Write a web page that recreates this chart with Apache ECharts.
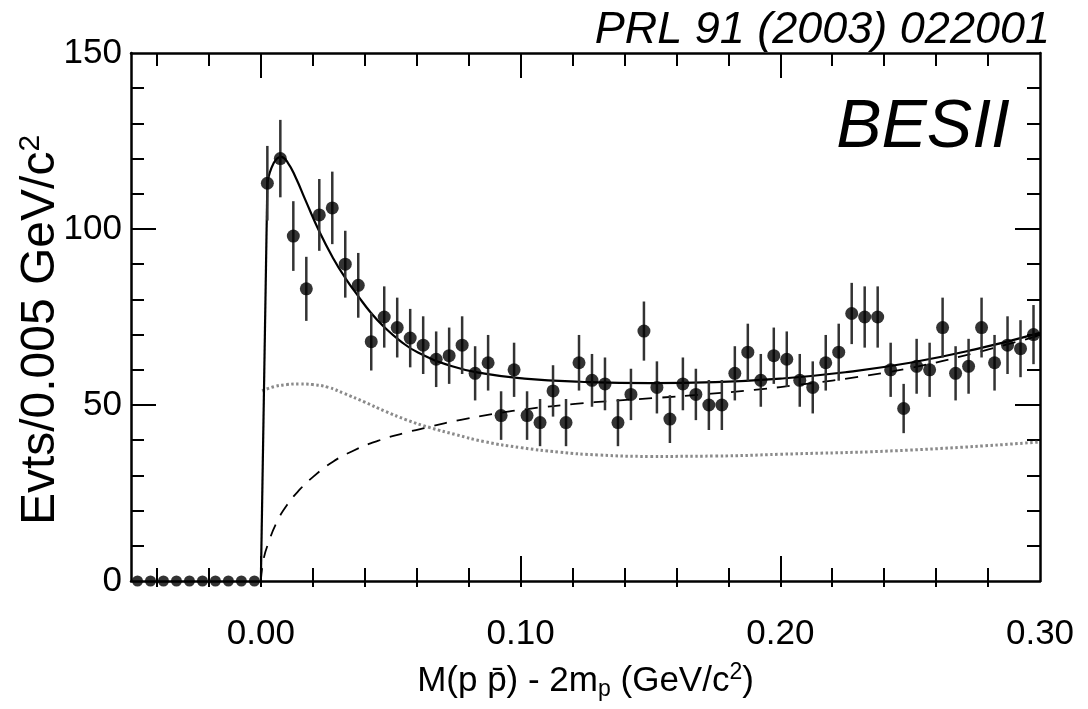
<!DOCTYPE html>
<html>
<head>
<meta charset="utf-8">
<title>BESII p pbar threshold</title>
<script src="https://cdn.jsdelivr.net/npm/echarts@6/dist/echarts.min.js"></script>
<style>
html, body { margin: 0; padding: 0; background: #fff; }
#chart { width: 1088px; height: 709px; }
</style>
</head>
<body>
<div id="chart"></div>
<script>
// below threshold: empty bins
var zeroX = [-0.0475, -0.0425, -0.0375, -0.0325, -0.0275, -0.0225, -0.0175, -0.0125, -0.0075, -0.0025];
var zeroY = [0, 0, 0, 0, 0, 0, 0, 0, 0, 0];

// bin centres (5 MeV bins) and counts
var binX = [
  0.0025, 0.0075, 0.0125, 0.0175, 0.0225, 0.0275, 0.0325, 0.0375, 0.0425, 0.0475,
  0.0525, 0.0575, 0.0625, 0.0675, 0.0725, 0.0775, 0.0825, 0.0875, 0.0925, 0.0975,
  0.1025, 0.1075, 0.1125, 0.1175, 0.1225, 0.1275, 0.1325, 0.1375, 0.1425, 0.1475,
  0.1525, 0.1575, 0.1625, 0.1675, 0.1725, 0.1775, 0.1825, 0.1875, 0.1925, 0.1975,
  0.2025, 0.2075, 0.2125, 0.2175, 0.2225, 0.2275, 0.2325, 0.2375, 0.2425, 0.2475,
  0.2525, 0.2575, 0.2625, 0.2675, 0.2725, 0.2775, 0.2825, 0.2875, 0.2925, 0.2975
];
var counts = [
  113, 120, 98, 83, 104, 106, 90, 84, 68, 75,
  72, 69, 67, 63, 64, 67, 59, 62, 47, 60,
  47, 45, 54, 45, 62, 57, 56, 45, 53, 71,
  55, 46, 56, 53, 50, 50, 59, 65, 57, 64,
  63, 57, 55, 62, 65, 76, 75, 75, 60, 49,
  61, 60, 72, 59, 61, 72, 62, 67, 66, 70
];
var errs = [
  10.6, 11.0, 9.9, 9.1, 10.2, 10.3, 9.5, 9.2, 8.2, 8.7,
  8.5, 8.3, 8.2, 7.9, 8.0, 8.2, 7.7, 7.9, 6.9, 7.7,
  6.9, 6.7, 7.3, 6.7, 7.9, 7.5, 7.5, 6.7, 7.3, 8.4,
  7.4, 6.8, 7.5, 7.3, 7.1, 7.1, 7.7, 8.1, 7.5, 8.0,
  7.9, 7.5, 7.4, 7.9, 8.1, 8.7, 8.7, 8.7, 7.7, 7.0,
  7.8, 7.7, 8.5, 7.7, 7.8, 8.5, 7.9, 8.2, 8.1, 8.4
];

// total fit (solid): steep threshold rise, then smooth part
var fitRiseX = [0.0, 0.0025];
var fitRiseY = [0, 113];
var fitX = [0.0025, 0.005, 0.0078, 0.0104, 0.0135, 0.017, 0.0227, 0.028, 0.0326, 0.0374, 0.0426,
  0.0477, 0.0535, 0.0605, 0.0733, 0.0862, 0.1015, 0.123, 0.15, 0.175, 0.2, 0.225, 0.25, 0.275, 0.3];
var fitY = [113, 118.8, 120.5, 118.8, 114.5, 108.5, 99, 91.5, 86, 81, 76,
  72, 68.3, 64.9, 61.1, 58.9, 57.5, 56.6, 56.2, 56.5, 57.5, 59.3, 62, 65.8, 70.5];

// background (dashed)
var bgX = [0.0, 0.001, 0.003, 0.006, 0.01, 0.015, 0.02, 0.027, 0.035, 0.045, 0.055, 0.065, 0.077, 0.09,
  0.104, 0.121, 0.136, 0.152, 0.17, 0.19, 0.21, 0.23, 0.25, 0.275, 0.3];
var bgY = [0, 6, 11, 16.5, 21.5, 26, 29.5, 33.5, 36.8, 39.8, 42, 43.8, 45.8, 47.5,
  49, 50.3, 51.2, 52, 53, 54.3, 56, 58, 60.5, 64.8, 69.8];

// resonance-like component (dotted)
var sigX = [0.0005, 0.005, 0.01, 0.015, 0.02, 0.026, 0.032, 0.04, 0.048, 0.056, 0.065, 0.075,
  0.086, 0.1, 0.115, 0.13, 0.15, 0.175, 0.2, 0.25, 0.3];
var sigY = [54, 55.2, 55.8, 56, 55.8, 55, 53.3, 50.8, 48.2, 45.8, 43.6, 41.6,
  39.6, 37.9, 36.6, 35.8, 35.4, 35.5, 36, 37.2, 39.5];

// axis ticks / labels
var xLabels = [0, 0.1, 0.2, 0.3];
var xMinorTicks = [-0.04, -0.02, 0, 0.02, 0.04, 0.06, 0.08, 0.1, 0.12, 0.14, 0.16, 0.18, 0.2, 0.22, 0.24, 0.26, 0.28];
var xMajorTicks = [0, 0.1, 0.2];
var yLabels = [0, 50, 100, 150];
var yMinorTicks = [10, 20, 30, 40, 50, 60, 70, 80, 90, 100, 110, 120, 130, 140];
var yMajorTicks = [50, 100];

function pairs(xs, ys) {
  var out = [];
  for (var i = 0; i < xs.length; i++) out.push([xs[i], ys[i]]);
  return out;
}

var FONT = '"Liberation Sans", Arial, Helvetica, sans-serif';
var black = '#000';

// tick-only axes share the grid; onZero off so they stay on the frame
function xAx(pos, ticks, len, inside, opts) {
  var a = {
    type: 'value', position: pos, min: -0.05, max: 0.30,
    axisLine: { show: false, onZero: false },
    axisTick: { show: true, inside: inside, length: len, customValues: ticks,
      lineStyle: { color: black, width: 2 } },
    axisLabel: { show: false },
    splitLine: { show: false }
  };
  return Object.assign(a, opts || {});
}
function yAx(pos, ticks, len, opts) {
  var a = {
    type: 'value', position: pos, min: 0, max: 150,
    axisLine: { show: false, onZero: false },
    axisTick: { show: true, inside: true, length: len, customValues: ticks,
      lineStyle: { color: black, width: 2 } },
    axisLabel: { show: false },
    splitLine: { show: false }
  };
  return Object.assign(a, opts || {});
}

var chart = echarts.init(document.getElementById('chart'));
chart.setOption({
  animation: false,
  backgroundColor: '#fff',
  textStyle: { fontFamily: FONT },
  grid: { left: 131, right: 48, top: 53, bottom: 128, containLabel: false, outerBoundsMode: 'none' },
  xAxis: [
    xAx('bottom', xMinorTicks, 13, true, {
      axisLine: { show: true, onZero: false, lineStyle: { color: black, width: 2.5 } },
      axisLabel: {
        show: true, customValues: xLabels, margin: 36, color: black, fontSize: 35, fontFamily: FONT,
        formatter: function (v) { return v.toFixed(2); }
      },
      name: '{t|M(p p\u0304) - 2m}{s|p}{t| (GeV/c}{u|2}{t|)}',
      nameLocation: 'middle',
      nameGap: 80,
      nameMoveOverlap: false,
      nameTextStyle: {
        color: black, fontFamily: FONT, fontSize: 35,
        rich: {
          t: { fontSize: 35, lineHeight: 40, fontFamily: FONT, color: black },
          s: { fontSize: 23, lineHeight: 22, verticalAlign: 'bottom', fontFamily: FONT, color: black },
          u: { fontSize: 23, lineHeight: 22, verticalAlign: 'top', fontFamily: FONT, color: black }
        }
      }
    }),
    xAx('bottom', xMajorTicks, 25, true),
    xAx('bottom', xMinorTicks, 6, false),
    xAx('top', xMinorTicks, 13, true, {
      axisLine: { show: true, onZero: false, lineStyle: { color: black, width: 2.5 } }
    }),
    xAx('top', xMajorTicks, 25, true)
  ],
  yAxis: [
    yAx('left', yMinorTicks, 13, {
      axisLine: { show: true, onZero: false, lineStyle: { color: black, width: 2.5 } },
      axisLabel: { show: true, customValues: yLabels, margin: 9, color: black, fontSize: 35, fontFamily: FONT },
      name: '{t|Evts/0.005 GeV/c}{u|2}',
      nameLocation: 'middle',
      nameRotate: 90,
      nameGap: 65,
      nameMoveOverlap: false,
      nameTextStyle: {
        color: black, fontFamily: FONT, fontSize: 48,
        padding: [0, 26, 0, 0],
        rich: {
          t: { fontSize: 48, lineHeight: 50, fontFamily: FONT, color: black },
          u: { fontSize: 30, lineHeight: 26, verticalAlign: 'top', fontFamily: FONT, color: black }
        }
      }
    }),
    yAx('left', yMajorTicks, 25),
    yAx('right', yMinorTicks, 13, {
      axisLine: { show: true, onZero: false, lineStyle: { color: black, width: 2.5 } }
    }),
    yAx('right', yMajorTicks, 25)
  ],
  graphic: [
    { type: 'text', right: 38, top: 8,
      style: { text: 'PRL 91 (2003) 022001', font: 'italic 45px ' + FONT, fill: black } },
    { type: 'text', right: 78, top: 94,
      style: { text: 'BESII', font: 'italic 68px ' + FONT, fill: black } }
  ],
  series: [
    {
      name: 'dotted', type: 'line', data: pairs(sigX, sigY), smooth: 0.5,
      showSymbol: false, symbol: 'none', z: 2,
      lineStyle: { color: '#8a8a8a', width: 3, type: [2.5, 2.5] }
    },
    {
      name: 'background', type: 'line', data: pairs(bgX, bgY), smooth: 0.5,
      showSymbol: false, symbol: 'none', z: 3,
      lineStyle: { color: black, width: 1.8, type: [13, 10] }
    },
    {
      name: 'fit rise', type: 'line', data: pairs(fitRiseX, fitRiseY),
      showSymbol: false, symbol: 'none', z: 4,
      lineStyle: { color: black, width: 2.2 }
    },
    {
      name: 'fit', type: 'line', data: pairs(fitX, fitY), smooth: 0.5,
      showSymbol: false, symbol: 'none', z: 4,
      lineStyle: { color: black, width: 2.2 }
    },
    {
      name: 'errors', type: 'custom', z: 5,
      data: binX.map(function (x, i) { return [x, counts[i], errs[i]]; }),
      renderItem: function (params, api) {
        var lo = api.coord([api.value(0), api.value(1) - api.value(2)]);
        var hi = api.coord([api.value(0), api.value(1) + api.value(2)]);
        return {
          type: 'line',
          shape: { x1: lo[0], y1: lo[1], x2: hi[0], y2: hi[1] },
          style: { stroke: '#333', lineWidth: 2.5 }
        };
      }
    },
    {
      name: 'data', type: 'scatter', data: pairs(binX, counts), symbol: 'circle', symbolSize: 13,
      itemStyle: { color: black }, z: 6
    },
    {
      name: 'empty', type: 'scatter', data: pairs(zeroX, zeroY), symbol: 'circle', symbolSize: 11,
      clip: false, itemStyle: { color: black }, z: 6
    }
  ]
});
</script>
</body>
</html>
